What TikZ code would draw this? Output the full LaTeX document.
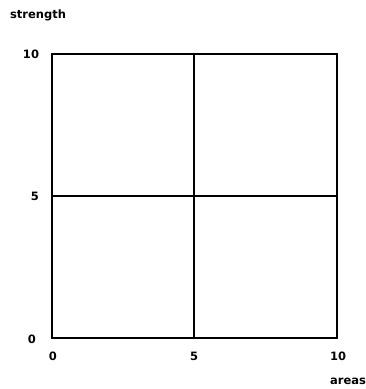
\documentclass[tikz,border=0pt]{standalone}
\usepackage{fontspec}
\setmainfont{DejaVu Sans}
\usetikzlibrary{positioning}

\begin{document}
\begin{tikzpicture}[x=1pt,y=-1pt,font=\fontsize{11.5}{13}\selectfont\bfseries,
  grid/.style={line width=1.5pt,black},
  lbl/.style={inner sep=0pt,text=black}]
\useasboundingbox (0,0) rectangle (366,389);

% plot frame
\coordinate (ll) at (52,338);
\coordinate (ur) at (337,54);
\coordinate (bm) at (194,338);
\coordinate (tm) at (194,54);
\coordinate (lm) at (52,196);
\coordinate (rm) at (337,196);

\draw[grid] (ll) rectangle (ur);
\draw[grid] (bm) -- (tm);
\draw[grid] (lm) -- (rm);

% axis names
\node[lbl] (ylab) at (38,15) {strength};
\node[lbl] (xlab) at (348,381) {areas};

% y ticks
\node[lbl] (y10) at (31,54) {10};
\node[lbl] (y5) at (35,196) {5};
\node[lbl] (y0) at (32,339) {0};

% x ticks
\node[lbl] (x0) at (53,356) {0};
\node[lbl] (x5) at (194,356) {5};
\node[lbl] (x10) at (338,356) {10};
\end{tikzpicture}
\end{document}
